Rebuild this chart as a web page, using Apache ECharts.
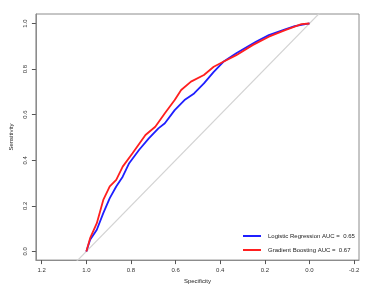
<!DOCTYPE html>
<html><head><meta charset="utf-8">
<script src="https://cdn.jsdelivr.net/npm/echarts@6/dist/echarts.min.js"></script>
<style>html,body{margin:0;padding:0;background:#fff}#c{width:374px;height:289px}</style>
</head><body><div id="c"></div>
<script>
const lrName = 'Logistic Regression AUC =  0.65';
const gbName = 'Gradient Boosting AUC =  0.67';
const lrSpec = [1.0, 0.983, 0.953, 0.924, 0.895, 0.866, 0.837, 0.808, 0.764, 0.72, 0.677, 0.648, 0.604, 0.56, 0.517, 0.473, 0.429, 0.386, 0.328, 0.24, 0.182, 0.109, 0.066, 0.0];
const lrSens = [0, 0.051, 0.095, 0.168, 0.234, 0.285, 0.328, 0.387, 0.445, 0.496, 0.54, 0.562, 0.62, 0.664, 0.693, 0.737, 0.788, 0.832, 0.869, 0.92, 0.949, 0.974, 0.988, 1.0];
const gbSpec = [1.0, 0.983, 0.953, 0.924, 0.895, 0.866, 0.837, 0.793, 0.735, 0.691, 0.648, 0.604, 0.575, 0.531, 0.473, 0.429, 0.386, 0.328, 0.255, 0.182, 0.109, 0.036, 0.0];
const gbSens = [0, 0.058, 0.124, 0.226, 0.285, 0.314, 0.372, 0.431, 0.511, 0.547, 0.606, 0.664, 0.708, 0.745, 0.774, 0.81, 0.832, 0.861, 0.905, 0.942, 0.971, 0.997, 1.0];
const xTicks = [1.2, 1.0, 0.8, 0.6, 0.4, 0.2, 0.0, -0.2];
const yTicks = [0.0, 0.2, 0.4, 0.6, 0.8, 1.0];
const diagSpec = [1.5, -0.5];
const diagSens = [-0.5, 1.5];

const zip = (a, b) => a.map((v, i) => [v, b[i]]);
const fmt = v => v.toFixed(1);
const font = 'Liberation Sans, Arial, sans-serif';
const chart = echarts.init(document.getElementById('c'), null, {renderer: 'canvas'});
chart.setOption({
  animation: false,
  grid: {left: 28, top: 14, right: 15, bottom: 28, show: true, borderColor: '#8c8c8c', borderWidth: 1, backgroundColor: 'transparent'},
  legend: {
    data: [lrName, gbName], orient: 'vertical', left: 238, top: 228,
    itemWidth: 18, itemHeight: 2, itemGap: 8, icon: 'rect',
    textStyle: {fontSize: 6, color: '#222', fontFamily: font, padding: [0, 0, 0, 2]}
  },
  xAxis: {
    type: 'value', inverse: true, min: -0.222, max: 1.226,
    name: 'Specificity', nameLocation: 'middle', nameGap: 17,
    nameTextStyle: {fontSize: 6, color: '#222', fontFamily: font},
    splitLine: {show: false},
    axisLine: {show: true, onZero: false, lineStyle: {color: '#8c8c8c', width: 1}},
    axisTick: {show: true, length: 4, customValues: xTicks, lineStyle: {color: '#555'}},
    axisLabel: {customValues: xTicks, formatter: fmt, fontSize: 6, color: '#333', fontFamily: font, margin: 7}
  },
  yAxis: {
    type: 'value', min: -0.038, max: 1.0416,
    name: 'Sensitivity', nameLocation: 'middle', nameGap: 20,
    nameTextStyle: {fontSize: 6, color: '#222', fontFamily: font},
    splitLine: {show: false},
    axisLine: {show: true, onZero: false, lineStyle: {color: '#8c8c8c', width: 1}},
    axisTick: {show: true, length: 4, customValues: yTicks, lineStyle: {color: '#555'}},
    axisLabel: {customValues: yTicks, formatter: fmt, rotate: 90, fontSize: 6, color: '#333', fontFamily: font, margin: 8}
  },
  series: [
    {name: 'diag', type: 'line', data: zip(diagSpec, diagSens), symbol: 'none', clip: true,
     lineStyle: {color: '#d3d3d3', width: 1.2}, silent: true},
    {name: lrName, type: 'line', data: zip(lrSpec, lrSens), symbol: 'none', color: '#1f1fff',
     lineStyle: {color: '#1f1fff', width: 1.8}},
    {name: gbName, type: 'line', data: zip(gbSpec, gbSens), symbol: 'none', color: '#ff1f1f',
     lineStyle: {color: '#ff1f1f', width: 1.8}}
  ]
});
</script></body></html>
